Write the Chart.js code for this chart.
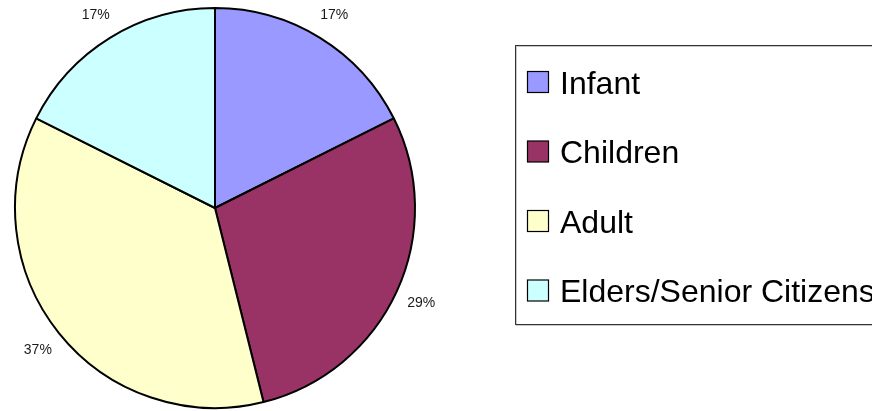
<!DOCTYPE html>
<html>
<head>
<meta charset="utf-8">
<script src="https://cdn.jsdelivr.net/npm/chart.js@4/dist/chart.umd.min.js"></script>
<style>
  html, body { margin: 0; padding: 0; background: #fff; }
  #wrap { position: relative; width: 872px; height: 411px; }
</style>
</head>
<body>
<div id="wrap"><canvas id="pie"></canvas></div>
<script>
const groups = ["Infant", "Children", "Adult", "Elders/Senior Citizens"];
const shares = [17.6, 28.5, 36.3, 17.6];
const shareLabels = ["17%", "29%", "37%", "17%"];
const sliceColors = ["#9999ff", "#993366", "#ffffcc", "#ccffff"];

const fontFamily = '"Liberation Sans", Arial, sans-serif';

// percent labels sitting just outside the rim
const outsideLabels = {
  id: "outsideLabels",
  afterDatasetsDraw(chart) {
    const { ctx } = chart;
    const meta = chart.getDatasetMeta(0);
    ctx.save();
    ctx.font = `14px ${fontFamily}`;
    ctx.fillStyle = "#1a1a1a";
    ctx.textAlign = "center";
    ctx.textBaseline = "middle";
    meta.data.forEach((arc, index) => {
      const mid = (arc.startAngle + arc.endAngle) / 2;
      const r = arc.outerRadius + 27;
      ctx.fillText(shareLabels[index], arc.x + Math.cos(mid) * r, arc.y + Math.sin(mid) * r);
    });
    ctx.restore();
  },
};

// boxed legend on the right, running off the edge like the original
const boxedLegend = {
  id: "boxedLegend",
  afterDraw(chart) {
    const { ctx } = chart;
    const colors = chart.data.datasets[0].backgroundColor;
    ctx.save();
    ctx.strokeStyle = "#c8c8c8";
    ctx.lineWidth = 1;
    ctx.strokeRect(516.5, 46.5, 380, 279);
    ctx.strokeStyle = "#333";
    ctx.strokeRect(515.5, 45.5, 380, 279);

    ctx.font = `32px ${fontFamily}`;
    ctx.textAlign = "left";
    ctx.textBaseline = "alphabetic";
    chart.data.labels.forEach((label, index) => {
      const cy = 82 + index * 69.5;
      ctx.fillStyle = colors[index];
      ctx.fillRect(527.5, cy - 10.5, 21, 21);
      ctx.strokeStyle = "#000";
      ctx.lineWidth = 1.2;
      ctx.strokeRect(527.5, cy - 10.5, 21, 21);
      ctx.fillStyle = "#000";
      ctx.fillText(label, 560, cy + 11.5);
    });
    ctx.restore();
  },
};

new Chart(document.getElementById("pie"), {
  type: "pie",
  data: {
    labels: groups,
    datasets: [
      {
        data: shares,
        backgroundColor: sliceColors,
        borderColor: "#000",
        borderWidth: 2,
      },
    ],
  },
  options: {
    responsive: true,
    maintainAspectRatio: false,
    animation: false,
    layout: {
      padding: { left: 14, top: 7, right: 456, bottom: 2 },
    },
    plugins: {
      legend: { display: false },
      tooltip: { enabled: false },
    },
  },
  plugins: [outsideLabels, boxedLegend],
});
</script>
</body>
</html>
